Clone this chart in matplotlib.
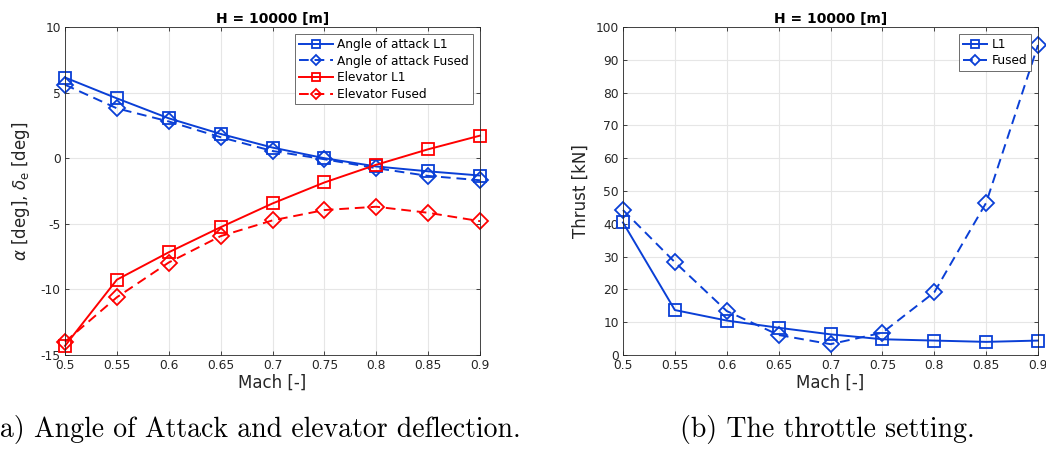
import matplotlib
matplotlib.use("Agg")
import matplotlib.pyplot as plt
from matplotlib.legend_handler import HandlerLine2D

plt.rcParams["axes.unicode_minus"] = False

mach = [0.5, 0.55, 0.6, 0.65, 0.7, 0.75, 0.8, 0.85, 0.9]
aoa_l1 = [6.15, 4.56, 3.04, 1.85, 0.81, 0.0, -0.63, -1.0, -1.32]
aoa_fused = [5.6, 3.8, 2.8, 1.6, 0.55, -0.08, -0.76, -1.35, -1.68]
elev_l1 = [-14.3, -9.26, -7.17, -5.26, -3.45, -1.85, -0.5, 0.68, 1.72]
elev_fused = [-14.0, -10.6, -7.95, -5.94, -4.74, -3.95, -3.7, -4.16, -4.8]
thrust_l1 = [40.4, 13.7, 10.5, 8.3, 6.3, 4.8, 4.4, 4.0, 4.4]
thrust_fused = [44.2, 28.3, 13.4, 6.1, 3.3, 6.8, 19.1, 46.4, 94.5]

xticks = [0.5, 0.55, 0.6, 0.65, 0.7, 0.75, 0.8, 0.85, 0.9]
xticklabels = ["0.5", "0.55", "0.6", "0.65", "0.7", "0.75", "0.8", "0.85", "0.9"]
yticks_a = [-15, -10, -5, 0, 5, 10]
yticks_b = [0, 10, 20, 30, 40, 50, 60, 70, 80, 90, 100]

BLUE = "#0a3fd6"
RED = "#ff0000"
TXT = "#262626"
W, H = 1046, 454
fig = plt.figure(figsize=(W / 100, H / 100), dpi=100)

def px_axes(x0, x1, y0, y1):
    return fig.add_axes([x0 / W, 1 - y1 / H, (x1 - x0) / W, (y1 - y0) / H])

tick_fs = 8.8
def style(ax):
    ax.grid(True, color="#e6e6e6", linewidth=0.8)
    ax.set_axisbelow(True)
    for s in ax.spines.values():
        s.set_color(TXT)
        s.set_linewidth(0.6)
    ax.tick_params(direction="in", length=3, width=0.6, colors=TXT,
                   labelsize=tick_fs, top=True, right=True, pad=3)
    ax.set_xlim(0.5, 0.9)
    ax.set_xticks(xticks)
    ax.set_xticklabels(xticklabels)
    ax.set_xlabel("Mach [-]", fontsize=12, color=TXT, labelpad=1)
    ax.set_title("H = 10000 [m]", fontsize=10, fontweight="bold", pad=3)

sq = dict(marker="s", markersize=8, markerfacecolor="none", markeredgewidth=1.3,
          linewidth=1.4, clip_on=False)
di = dict(marker="D", markersize=8, markerfacecolor="none", markeredgewidth=1.3,
          linewidth=1.4, linestyle="--", dashes=(5, 3), clip_on=False)

def small_marker(h, orig):
    h.update_from(orig)
    h.set_markersize(5.5)

hmap = {"default": HandlerLine2D(update_func=small_marker)}

def make_legend(ax, hl):
    from matplotlib.lines import Line2D
    handles, labels = ax.get_legend_handles_labels()
    leg = ax.legend(handles, labels, loc="upper right", fontsize=8.7, handlelength=hl,
                    borderpad=0.3, labelspacing=0.3, handletextpad=0.4, fancybox=False,
                    framealpha=1, edgecolor="#555555", borderaxespad=0.6,
                    handler_map={Line2D: HandlerLine2D(update_func=small_marker)})
    leg.get_frame().set_linewidth(0.6)
    return leg

ax1 = px_axes(65, 480, 27, 355)
ax1.plot(mach, aoa_l1, color=BLUE, label="Angle of attack L1", **sq)
ax1.plot(mach, aoa_fused, color=BLUE, label="Angle of attack Fused", **di)
ax1.plot(mach, elev_l1, color=RED, label="Elevator L1", **sq)
ax1.plot(mach, elev_fused, color=RED, label="Elevator Fused", **di)
style(ax1)
ax1.set_ylim(-15, 10)
ax1.set_yticks(yticks_a)
ax1.set_ylabel(r"$\alpha$ [deg], $\delta_{\rm e}$ [deg]", fontsize=12, color=TXT, labelpad=6)
make_legend(ax1, 2.8)

ax2 = px_axes(623, 1038, 27, 355)
ax2.plot(mach, thrust_l1, color=BLUE, label="L1", **sq)
ax2.plot(mach, thrust_fused, color=BLUE, label="Fused", **di)
style(ax2)
ax2.set_ylim(0, 100)
ax2.set_yticks(yticks_b)
ax2.set_ylabel("Thrust [kN]", fontsize=12, color=TXT, labelpad=4)
make_legend(ax2, 2.0)

fig.text(-11 / W, 1 - 437 / H, "(a) Angle of Attack and elevator deflection.",
         fontsize=20, family="cmr10", ha="left", va="baseline")
fig.text(680 / W, 1 - 437 / H, "(b) The throttle setting.",
         fontsize=20, family="cmr10", ha="left", va="baseline")

fig.savefig("out.png", dpi=100)
